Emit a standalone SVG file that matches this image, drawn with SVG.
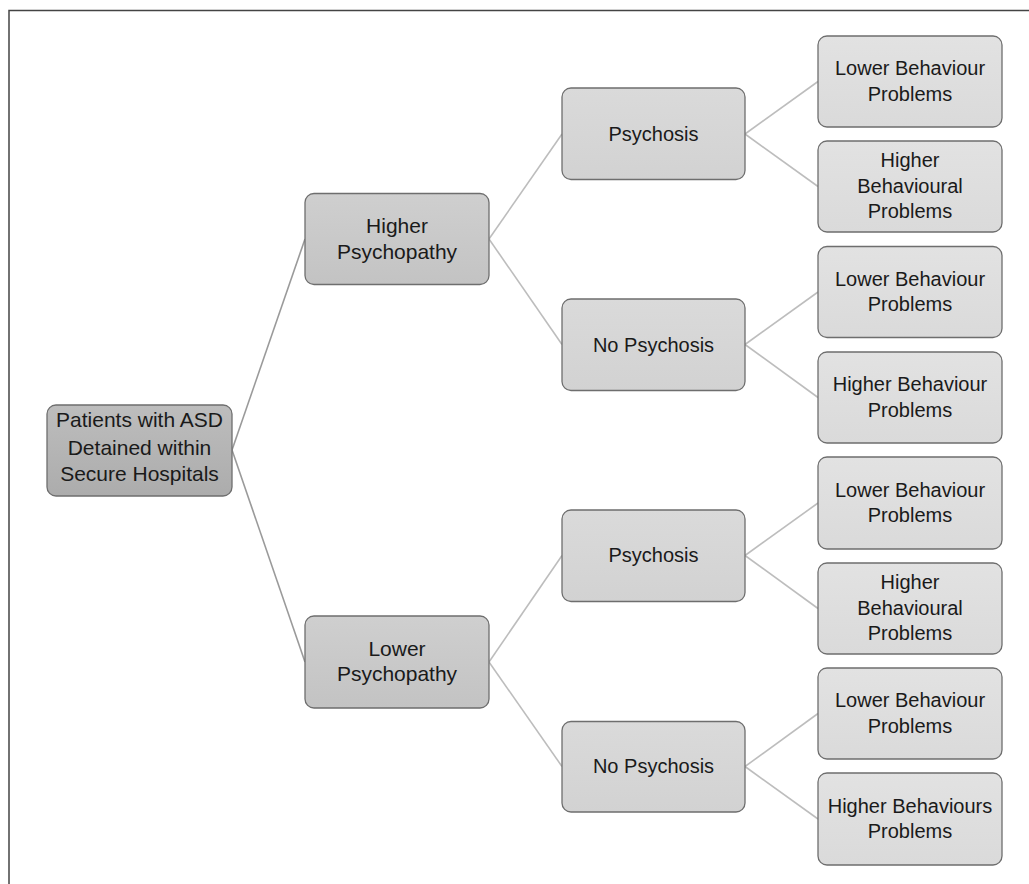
<svg xmlns="http://www.w3.org/2000/svg" width="1029" height="884" viewBox="0 0 1029 884">
<style>
.box{stroke:#6e6e6e;stroke-width:1.3}
.t{font-family:"Liberation Sans",Arial,sans-serif;font-size:20px;fill:#1a1a1a;text-anchor:middle}
.t21{font-size:21px}
.c1{stroke:#9a9a9a;stroke-width:1.6;fill:none}
.c2{stroke:#bdbdbd;stroke-width:1.6;fill:none}
</style>
<defs>
<linearGradient id="g0" x1="0" y1="0" x2="0" y2="1"><stop offset="0" stop-color="#bdbdbd"/><stop offset="1" stop-color="#acacac"/></linearGradient>
<linearGradient id="g1" x1="0" y1="0" x2="0" y2="1"><stop offset="0" stop-color="#cfcfcf"/><stop offset="1" stop-color="#c3c3c3"/></linearGradient>
<linearGradient id="g2" x1="0" y1="0" x2="0" y2="1"><stop offset="0" stop-color="#dadada"/><stop offset="1" stop-color="#d2d2d2"/></linearGradient>
<linearGradient id="g3" x1="0" y1="0" x2="0" y2="1"><stop offset="0" stop-color="#e2e2e2"/><stop offset="1" stop-color="#dadada"/></linearGradient>
</defs>
<rect width="1029" height="884" fill="#ffffff"/>
<path d="M9,884 V10.5 H1029" fill="none" stroke="#444" stroke-width="1.5"/>
<g id="connectors">
<line class="c1" x1="232" y1="450" x2="305" y2="239"/>
<line class="c1" x1="232" y1="450" x2="305" y2="662"/>
<line class="c2" x1="489" y1="239" x2="562" y2="134"/>
<line class="c2" x1="489" y1="239" x2="562" y2="344.5"/>
<line class="c2" x1="489" y1="662" x2="562" y2="555.5"/>
<line class="c2" x1="489" y1="662" x2="562" y2="766.5"/>
<line class="c2" x1="745" y1="134" x2="818" y2="81.5"/>
<line class="c2" x1="745" y1="134" x2="818" y2="186.5"/>
<line class="c2" x1="745" y1="344.5" x2="818" y2="292"/>
<line class="c2" x1="745" y1="344.5" x2="818" y2="397.5"/>
<line class="c2" x1="745" y1="555.5" x2="818" y2="503"/>
<line class="c2" x1="745" y1="555.5" x2="818" y2="608.5"/>
<line class="c2" x1="745" y1="766.5" x2="818" y2="713.5"/>
<line class="c2" x1="745" y1="766.5" x2="818" y2="819"/>
</g>
<g id="root">
<rect class="box" x="47" y="405" width="185" height="91" rx="9" fill="url(#g0)"/>
<text class="t t21" x="139.5" y="427">Patients with ASD</text>
<text class="t t21" x="139.5" y="454.5">Detained within</text>
<text class="t t21" x="139.5" y="481">Secure Hospitals</text>
</g>
<g id="higher-psychopathy">
<rect class="box" x="305" y="193.5" width="184" height="91" rx="9" fill="url(#g1)"/>
<text class="t t21" x="397" y="233">Higher</text>
<text class="t t21" x="397" y="258.5">Psychopathy</text>
</g>
<g id="lower-psychopathy">
<rect class="box" x="305" y="616" width="184" height="92" rx="9" fill="url(#g1)"/>
<text class="t t21" x="397" y="655.5">Lower</text>
<text class="t t21" x="397" y="681">Psychopathy</text>
</g>
<g id="psychosis-1">
<rect class="box" x="562" y="88" width="183" height="91.5" rx="9" fill="url(#g2)"/>
<text class="t" x="653.5" y="140.5">Psychosis</text>
</g>
<g id="no-psychosis-1">
<rect class="box" x="562" y="299" width="183" height="91.5" rx="9" fill="url(#g2)"/>
<text class="t" x="653.5" y="351.5">No Psychosis</text>
</g>
<g id="psychosis-2">
<rect class="box" x="562" y="510" width="183" height="91.5" rx="9" fill="url(#g2)"/>
<text class="t" x="653.5" y="562">Psychosis</text>
</g>
<g id="no-psychosis-2">
<rect class="box" x="562" y="721.5" width="183" height="90.5" rx="9" fill="url(#g2)"/>
<text class="t" x="653.5" y="773">No Psychosis</text>
</g>
<g id="leaf-1">
<rect class="box" x="818" y="36" width="184" height="91" rx="9" fill="url(#g3)"/>
<text class="t" x="910" y="75">Lower Behaviour</text>
<text class="t" x="910" y="100.5">Problems</text>
</g>
<g id="leaf-2">
<rect class="box" x="818" y="141" width="184" height="91" rx="9" fill="url(#g3)"/>
<text class="t" x="910" y="167">Higher</text>
<text class="t" x="910" y="192.5">Behavioural</text>
<text class="t" x="910" y="218">Problems</text>
</g>
<g id="leaf-3">
<rect class="box" x="818" y="246.5" width="184" height="91" rx="9" fill="url(#g3)"/>
<text class="t" x="910" y="285.5">Lower Behaviour</text>
<text class="t" x="910" y="311">Problems</text>
</g>
<g id="leaf-4">
<rect class="box" x="818" y="352" width="184" height="91" rx="9" fill="url(#g3)"/>
<text class="t" x="910" y="391">Higher Behaviour</text>
<text class="t" x="910" y="416.5">Problems</text>
</g>
<g id="leaf-5">
<rect class="box" x="818" y="457" width="184" height="92" rx="9" fill="url(#g3)"/>
<text class="t" x="910" y="496.5">Lower Behaviour</text>
<text class="t" x="910" y="522">Problems</text>
</g>
<g id="leaf-6">
<rect class="box" x="818" y="563" width="184" height="91" rx="9" fill="url(#g3)"/>
<text class="t" x="910" y="589">Higher</text>
<text class="t" x="910" y="614.5">Behavioural</text>
<text class="t" x="910" y="640">Problems</text>
</g>
<g id="leaf-7">
<rect class="box" x="818" y="668" width="184" height="91" rx="9" fill="url(#g3)"/>
<text class="t" x="910" y="707">Lower Behaviour</text>
<text class="t" x="910" y="732.5">Problems</text>
</g>
<g id="leaf-8">
<rect class="box" x="818" y="773" width="184" height="92" rx="9" fill="url(#g3)"/>
<text class="t" x="910" y="812.5">Higher Behaviours</text>
<text class="t" x="910" y="838">Problems</text>
</g>
</svg>
